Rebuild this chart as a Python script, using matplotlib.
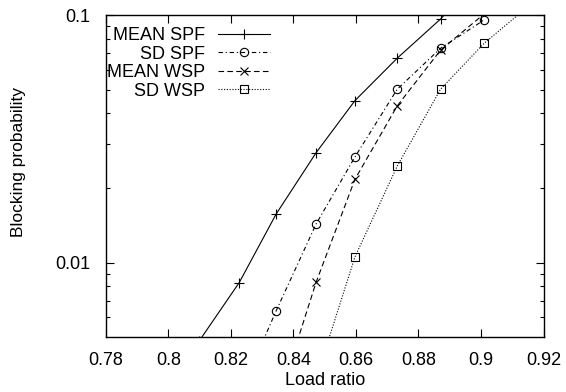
import matplotlib
matplotlib.use("Agg")
import matplotlib.pyplot as plt
from matplotlib.ticker import FixedLocator, NullFormatter

plt.rcParams['font.family'] = ['Liberation Sans', 'DejaVu Sans']

# load ratio / blocking probability
x_mean_spf = [0.8098, 0.8227, 0.8345, 0.8473, 0.8597, 0.8732, 0.8871, 0.9010]
y_mean_spf = [0.0048, 0.0083, 0.0157, 0.0278, 0.0451, 0.0669, 0.0964, 0.15]

x_sd_spf = [0.8227, 0.8345, 0.8473, 0.8597, 0.8732, 0.8871, 0.9010]
y_sd_spf = [0.0029, 0.00638, 0.01433, 0.0267, 0.0501, 0.0734, 0.0955]

x_mean_wsp = [0.8345, 0.8473, 0.8597, 0.8732, 0.8871, 0.9010]
y_mean_wsp = [0.0026, 0.00834, 0.0217, 0.0429, 0.0722, 0.101]

x_sd_wsp = [0.8473, 0.8597, 0.8732, 0.8871, 0.9010, 0.915]
y_sd_wsp = [0.0034, 0.01054, 0.0245, 0.0502, 0.0769, 0.108]

xticks = [0.78, 0.8, 0.82, 0.84, 0.86, 0.88, 0.9, 0.92]
xticklabels = ['0.78', '0.8', '0.82', '0.84', '0.86', '0.88', '0.9', '0.92']

fig = plt.figure(figsize=(5.66, 3.92), dpi=100)
ax = fig.add_axes([0.1868, 0.1403, 0.7735, 0.8214])

lw = 0.8
ax.plot(x_mean_spf, y_mean_spf, color='black', lw=lw, ls='-',
        marker='+', ms=7, mew=lw, label='MEAN SPF')
ax.plot(x_sd_spf, y_sd_spf, color='black', lw=lw, ls=(0, (4, 2.5, 1, 2.5)),
        marker='o', ms=6, mew=lw, mfc='none', label='SD SPF')
# the last point is above the plot range, gnuplot draws no marker there
ax.plot(x_mean_wsp, y_mean_wsp, color='black', lw=lw, ls=(0, (5, 3)),
        marker='x', ms=6, mew=lw, markevery=list(range(5)), label='MEAN WSP')
ax.plot(x_sd_wsp, y_sd_wsp, color='black', lw=lw, ls=(0, (1, 1.5)),
        marker='s', ms=6, mew=lw, mfc='none', label='SD WSP')

ax.set_yscale('log')
ax.set_xlim(0.78, 0.92)
ax.set_ylim(0.005, 0.1)

ax.set_xticks(xticks)
ax.set_xticklabels(xticklabels)
ax.set_yticks([0.01, 0.1])
ax.set_yticklabels(['0.01', '0.1'])
ax.yaxis.set_minor_locator(FixedLocator([0.006, 0.007, 0.008, 0.009] +
                                        [i / 100 for i in range(2, 10)]))
ax.yaxis.set_minor_formatter(NullFormatter())
ax.xaxis.set_minor_locator(FixedLocator([]))

ax.tick_params(which='both', direction='in', top=True, right=True,
               labelsize=13, width=0.8)
ax.tick_params(which='major', length=6)
ax.tick_params(which='minor', length=3)
ax.tick_params(axis='x', pad=10.5)
ax.tick_params(axis='y', pad=11)
for s in ax.spines.values():
    s.set_linewidth(1.0)

ax.set_xlabel('Load ratio', fontsize=13)
ax.xaxis.set_label_coords(0.5, -0.1366)
ax.xaxis.label.set_verticalalignment('center')
ax.set_ylabel('Blocking probability', fontsize=12.5)
ax.yaxis.set_label_coords(-0.1996, 0.542)
ax.yaxis.label.set_verticalalignment('center')

leg = ax.legend(loc='upper right', bbox_to_anchor=(0.375, 0.962),
                frameon=False, markerfirst=False, fontsize=13,
                handlelength=2.9, handletextpad=0.7, labelspacing=0.08,
                borderpad=0, borderaxespad=0)
for t in leg.get_texts():
    t.set_clip_box(ax.bbox)
    t.set_clip_on(True)

fig.savefig('out.png', dpi=100)
